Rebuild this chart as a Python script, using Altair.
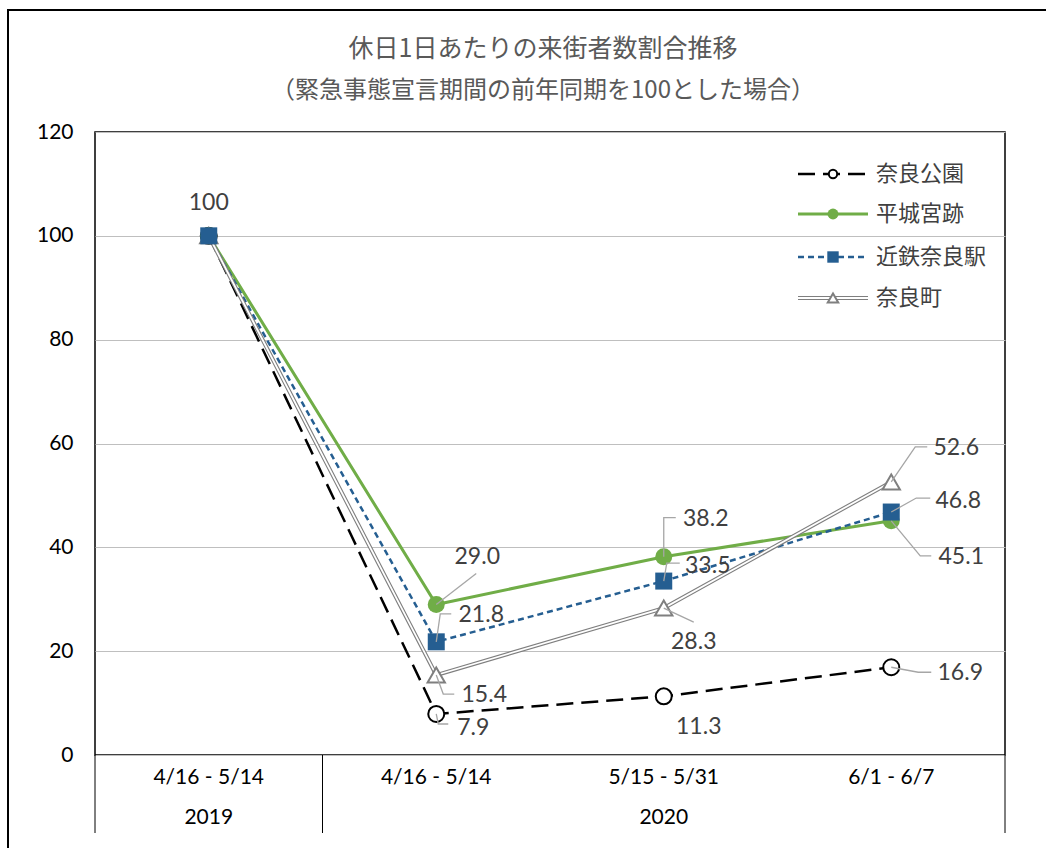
import altair as alt
import pandas as pd

# ---- data -------------------------------------------------------------
periods = ["4/16 - 5/14", "4/16 - 5/14", "5/15 - 5/31", "6/1 - 6/7"]
years = ["2019", "2020", "2020", "2020"]
series_names = ["奈良公園", "平城宮跡", "近鉄奈良駅", "奈良町"]
nara_koen = [100, 7.9, 11.3, 16.9]
heijokyu = [100, 29.0, 38.2, 45.1]
kintetsu = [100, 21.8, 33.5, 46.8]
naramachi = [100, 15.4, 28.3, 52.6]
series_values = [nara_koen, heijokyu, kintetsu, naramachi]
y_ticks = [0, 20, 40, 60, 80, 100, 120]

title_lines = ["休日1日あたりの来街者数割合推移", "（緊急事態宣言期間の前年同期を100とした場合）"]

# ---- layout ------------------------------------------------------------
W, H = 910, 623
PAD = {"left": 95, "top": 132, "right": 41, "bottom": 93}
YMAX = 120
XU = W / len(periods)      # pixels per category
YU = H / YMAX              # pixels per value unit

NUM_FONT = "Lato"
JP_FONT = "Noto Sans CJK JP"
LABEL_GRAY = "#404040"
LEADER_GRAY = "#A6A6A6"

# data-label placement: (series, index) -> (label dx, dy in px, leader polyline in px)
label_layout = {
    ("近鉄奈良駅", 0): (0, -33, []),
    ("平城宮跡", 1): (41, -47, [(0, 0), (40, -31)]),
    ("近鉄奈良駅", 1): (45, -27, [(0, 0), (4, -28), (15, -28)]),
    ("奈良町", 1): (48, 20, [(0, 0), (7, 19), (18, 19)]),
    ("奈良公園", 1): (37, 14, [(0, 0), (2, 10), (12, 10)]),
    ("平城宮跡", 2): (42, -38, [(0, 0), (0, -39), (12, -39)]),
    ("近鉄奈良駅", 2): (44, -15, [(0, 0), (3, -18), (16, -18)]),
    ("奈良町", 2): (30, 34, [(0, 0), (30, 14)]),
    ("奈良公園", 2): (35, 31, []),
    ("奈良町", 3): (65, -34, [(0, 0), (24, -35), (36, -35)]),
    ("近鉄奈良駅", 3): (67, -11, [(0, 0), (25, -14), (39, -14)]),
    ("平城宮跡", 3): (70, 36, [(0, 0), (29, 35), (40, 35)]),
    ("奈良公園", 3): (69, 6, [(0, 0), (27, 5), (40, 5)]),
}

# ---- tables ------------------------------------------------------------
rows = []
for name, vals in zip(series_names, series_values):
    for i, v in enumerate(vals):
        rows.append({"series": name, "idx": i, "x": i + 0.5, "y": v,
                     "period": periods[i], "year": years[i]})
df = pd.DataFrame(rows)

label_rows, leader_rows = [], []
for (name, i), (dx, dy, path) in label_layout.items():
    v = series_values[series_names.index(name)][i]
    text = f"{v:.0f}" if v == 100 else f"{v:.1f}"
    label_rows.append({"x": i + 0.5 + dx / XU, "y": v - dy / YU, "text": text})
    for k, (px, py) in enumerate(path):
        leader_rows.append({"lid": f"{name}-{i}", "k": k,
                            "x": i + 0.5 + px / XU, "y": v - py / YU})
labels_df = pd.DataFrame(label_rows)
leaders_df = pd.DataFrame(leader_rows)

axis_df = pd.DataFrame({"x": [i + 0.5 for i in range(len(periods))], "period": periods})
year_groups = []
for yr in dict.fromkeys(years):
    idxs = [i for i, y in enumerate(years) if y == yr]
    year_groups.append({"year": yr, "x": (idxs[0] + idxs[-1] + 1) / 2,
                        "start": idxs[0], "end": idxs[-1] + 1})
years_df = pd.DataFrame(year_groups)
sep_df = pd.DataFrame({"x": sorted({g["start"] for g in year_groups} | {g["end"] for g in year_groups})})

xscale = alt.Scale(domain=[0, len(periods)], nice=False, zero=False)
yscale = alt.Scale(domain=[0, YMAX], nice=False, zero=True)

y_axis = alt.Axis(values=y_ticks, grid=True, gridColor="#BFBFBF",
                  gridWidth=1, ticks=False, domain=False, labelFontSize=21,
                  labelFont=NUM_FONT, labelColor="#000000", labelPadding=22, title=None)


def X():
    return alt.X("x:Q", scale=xscale, axis=None)


def Y():
    return alt.Y("y:Q", scale=yscale, axis=y_axis)


one = pd.DataFrame({"k": [0]})

# ---- frame and title ------------------------------------------------------
frame = alt.Chart(one).mark_rect(fill=None, stroke="#000000", strokeWidth=2).encode(
    x=alt.value(8 - PAD["left"]), x2=alt.value(W + PAD["right"] + 20),
    y=alt.value(10 - PAD["top"]), y2=alt.value(H + PAD["bottom"] + 20))

title_layers = [
    alt.Chart(one).mark_text(text=t, font=JP_FONT, fontSize=fs, color="#595959",
                             align="center", baseline="middle").encode(
        x=alt.value(448), y=alt.value(yy))
    for t, yy, fs in zip(title_lines, [-83, -41], [25, 24])
]

# ---- series lines --------------------------------------------------------
def sdf(name):
    return df[df.series == name]

line_koen = alt.Chart(sdf("奈良公園")).mark_line(
    color="#000000", strokeWidth=2.5, strokeDash=[17, 8]).encode(x=X(), y=Y())
line_heijo = alt.Chart(sdf("平城宮跡")).mark_line(
    color="#70AD47", strokeWidth=3).encode(x=X(), y=Y())
line_kin = alt.Chart(sdf("近鉄奈良駅")).mark_line(
    color="#255E91", strokeWidth=2.5, strokeDash=[6, 4]).encode(x=X(), y=Y())
line_machi_o = alt.Chart(sdf("奈良町")).mark_line(
    color="#7F7F7F", strokeWidth=4).encode(x=X(), y=Y())
line_machi_i = alt.Chart(sdf("奈良町")).mark_line(
    color="#FFFFFF", strokeWidth=1.8).encode(x=X(), y=Y())

# ---- markers ---------------------------------------------------------------
pt_koen = alt.Chart(sdf("奈良公園")).mark_point(
    shape="circle", size=256, filled=True, fill="#FFFFFF", stroke="#000000",
    strokeWidth=2, opacity=1).encode(x=X(), y=Y())
pt_heijo = alt.Chart(sdf("平城宮跡")).mark_point(
    shape="circle", size=289, filled=True, color="#70AD47", opacity=1).encode(x=X(), y=Y())
pt_machi = alt.Chart(sdf("奈良町")).mark_point(
    shape="triangle-up", size=300, filled=True, fill="#FFFFFF", stroke="#7F7F7F",
    strokeWidth=2, opacity=1).encode(x=X(), y=Y())
pt_kin = alt.Chart(sdf("近鉄奈良駅")).mark_point(
    shape="square", size=289, filled=True, color="#255E91", opacity=1).encode(x=X(), y=Y())

# ---- data labels -----------------------------------------------------------
leaders = alt.Chart(leaders_df).mark_line(color=LEADER_GRAY, strokeWidth=1.3).encode(
    x=X(), y=Y(), detail="lid:N", order="k:Q")
value_labels = alt.Chart(labels_df).mark_text(
    font=NUM_FONT, fontSize=23, color=LABEL_GRAY, align="center", baseline="middle").encode(
    x=X(), y=Y(), text="text:N")

# ---- two-level category axis ------------------------------------------------
period_labels = alt.Chart(axis_df).mark_text(
    font=NUM_FONT, fontSize=21, color="#000000", align="center", baseline="middle").encode(
    x=X(), y=alt.value(646), text="period:N")
year_labels = alt.Chart(years_df).mark_text(
    font=NUM_FONT, fontSize=21, color="#000000", align="center", baseline="middle").encode(
    x=X(), y=alt.value(686), text="year:N")
separators = alt.Chart(sep_df).mark_rule(color="#000000", strokeWidth=1).encode(
    x=X(), y=alt.value(H), y2=alt.value(H + 78))

# ---- legend --------------------------------------------------------------------
LX0, LX1, LM, LT = 703, 773, 738, 781
rows_y = [42, 82, 125, 166]


def leg_rule(yy, **kw):
    return alt.Chart(one).mark_rule(**kw).encode(
        x=alt.value(LX0), x2=alt.value(LX1), y=alt.value(yy))


def leg_point(yy, **kw):
    return alt.Chart(one).mark_point(opacity=1, filled=True, **kw).encode(
        x=alt.value(LM), y=alt.value(yy))


legend = [
    leg_rule(rows_y[0], color="#000000", strokeWidth=2.5, strokeDash=[17, 8]),
    leg_point(rows_y[0], shape="circle", size=70, fill="#FFFFFF", stroke="#000000", strokeWidth=2),
    leg_rule(rows_y[1], color="#70AD47", strokeWidth=3),
    leg_point(rows_y[1], shape="circle", size=120, color="#70AD47"),
    leg_rule(rows_y[2], color="#255E91", strokeWidth=2.5, strokeDash=[6, 4]),
    leg_point(rows_y[2], shape="square", size=130, color="#255E91"),
    leg_rule(rows_y[3], color="#7F7F7F", strokeWidth=4),
    leg_rule(rows_y[3], color="#FFFFFF", strokeWidth=1.8),
    leg_point(rows_y[3], shape="triangle-up", size=110, fill="#FFFFFF", stroke="#7F7F7F", strokeWidth=2),
]
legend += [
    alt.Chart(one).mark_text(text=name, font=JP_FONT, fontSize=22, color=LABEL_GRAY,
                             align="left", baseline="middle").encode(
        x=alt.value(LT), y=alt.value(yy))
    for name, yy in zip(series_names, rows_y)
]

chart = alt.layer(
    line_koen, line_heijo, line_kin, line_machi_o, line_machi_i,
    pt_koen, pt_heijo, pt_machi, pt_kin,
    leaders, value_labels,
    period_labels, year_labels, separators,
    frame, *title_layers, *legend,
).properties(
    width=W, height=H, padding=PAD, autosize=alt.AutoSizeParams(type="none"),
    background="#FFFFFF",
).configure_view(stroke="#000000", strokeWidth=1.5)

chart.save("out.html", embed_options={"renderer": "svg", "actions": False})
